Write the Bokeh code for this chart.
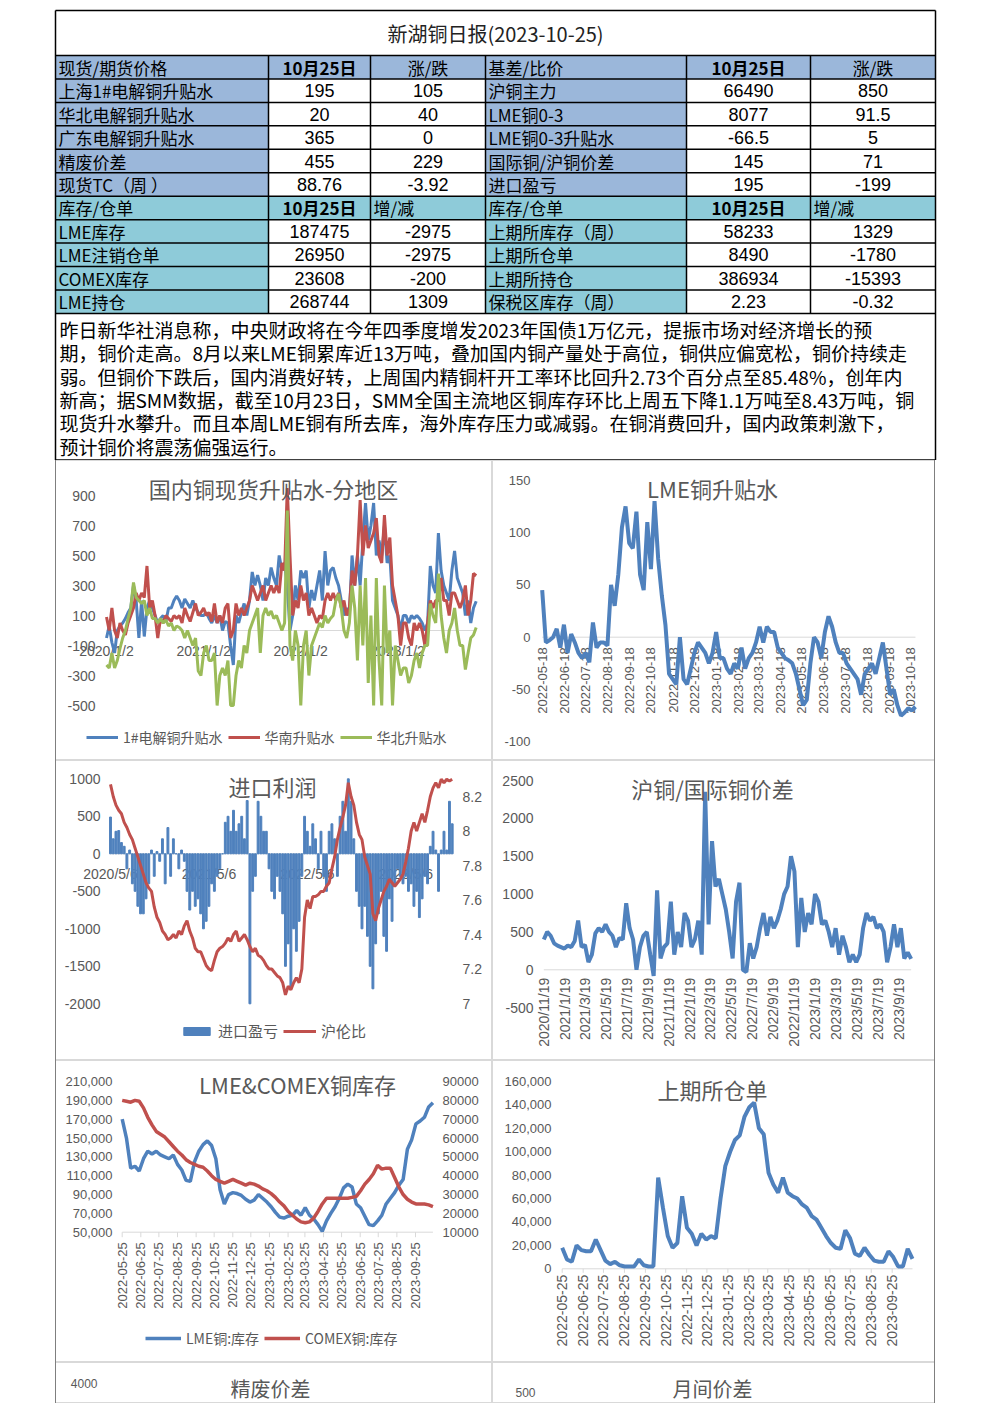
import math
import re
import pandas as pd
from bokeh.plotting import figure
from bokeh.models import Range1d, Legend, LegendItem, Label, Spacer
from bokeh.layouts import column, row
from bokeh.embed import file_html
from bokeh.resources import INLINE
from bokeh.core.properties import value

# ---------------------------------------------------------------- table data
report_title = "新湖铜日报(2023-10-25)"
price_labels = ["现货/期货价格", "上海1#电解铜升贴水", "华北电解铜升贴水", "广东电解铜升贴水", "精废价差", "现货TC（周 ）"]
price_today = ["10月25日", "195", "20", "365", "455", "88.76"]
price_chg = ["涨/跌", "105", "40", "0", "229", "-3.92"]
basis_labels = ["基差/比价", "沪铜主力", "LME铜0-3", "LME铜0-3升贴水", "国际铜/沪铜价差", "进口盈亏"]
basis_today = ["10月25日", "66490", "8077", "-66.5", "145", "195"]
basis_chg = ["涨/跌", "850", "91.5", "5", "71", "-199"]
stock_labels = ["库存/仓单", "LME库存", "LME注销仓单", "COMEX库存", "LME持仓"]
stock_today = ["10月25日", "187475", "26950", "23608", "268744"]
stock_chg = ["增/减", "-2975", "-2975", "-200", "1309"]
shfe_labels = ["库存/仓单", "上期所库存（周）", "上期所仓单", "上期所持仓", "保税区库存（周）"]
shfe_today = ["10月25日", "58233", "8490", "386934", "2.23"]
shfe_chg = ["增/减", "1329", "-1780", "-15393", "-0.32"]
news_lines = [
    "昨日新华社消息称，中央财政将在今年四季度增发2023年国债1万亿元，提振市场对经济增长的预",
    "期，铜价走高。8月以来LME铜累库近13万吨，叠加国内铜产量处于高位，铜供应偏宽松，铜价持续走",
    "弱。但铜价下跌后，国内消费好转，上周国内精铜杆开工率环比回升2.73个百分点至85.48%，创年内",
    "新高；据SMM数据，截至10月23日，SMM全国主流地区铜库存环比上周五下降1.1万吨至8.43万吨，铜",
    "现货升水攀升。而且本周LME铜有所去库，海外库存压力或减弱。在铜消费回升，国内政策刺激下，",
    "预计铜价将震荡偏强运行。",
]

# ---------------------------------------------------------------- chart 1: 国内铜现货升贴水-分地区
c1_title = "国内铜现货升贴水-分地区"
c1_names = ["1#电解铜升贴水", "华南升贴水", "华北升贴水"]
c1_xlabels = ["2020/1/2", "2021/1/2", "2022/1/2", "2023/1/2"]
c1_yticks = [-500, -300, -100, 100, 300, 500, 700, 900]
c1_sh = [-50, 30, -80, -150, 0, 30, 50, 80, 120, 150, 300, 200, -50, 200, -40, 150, 200, 150,
         100, 50, 80, 100, 60, 150, 150, 200, 230, 200, 150, 210, 180, 150, 200, 150, 120, 100,
         100, 120, 80, 50, 100, 50, 100, 0, 60, 50, -100, -230, 100, 50, 120, 180, 100, 200,
         390, 300, 370, 300, 200, 350, 300, 420, 350, 300, 500, 400, 450, 300, 0, 100, 300, 200,
         400, 350, 400, 150, 270, 200, 300, 400, 200, 530, 300, 400, 420, 350, 300, 200, 100, 150,
         100, 500, 300, 500, 300, 600, 850, 600, 700, 850, 500, 600, 500, 700, 450, 500, 200, 150,
         100, 0, 100, 100, 50, 100, 80, 100, 80, 50, 0, 50, 430, 300, 250, 650, 400, 300,
         250, 200, 400, 530, 350, 300, 250, 100, 200, 50, 150, 195]
c1_south = [90, 0, 150, 0, -50, 50, 0, -30, 50, 100, 150, 250, 200, 250, 220, 430, 150, 200,
            100, -50, 80, 50, 100, 80, 60, 100, 80, 100, 50, 150, 100, 60, 120, 180, 100, 120,
            150, 100, 120, 60, 180, 50, 100, 50, 150, 180, -50, 0, 180, 100, 150, 100, 150, 200,
            300, 250, 200, 250, 300, 200, 250, 300, 250, 300, 250, 450, 400, 950, 500, 100, 200, 150,
            300, 200, 250, 100, 150, 100, 50, 100, 80, 200, 250, 200, 250, 200, 250, 150, 200, 100,
            150, 400, 300, 500, 870, 500, 700, 550, 600, 650, 750, 500, 450, 770, 500, 620, 300, 200,
            100, -100, 50, 50, -50, -100, 50, 0, 50, 0, -100, 50, 200, 150, 200, 200, 350, 200,
            200, 100, 250, 250, 200, 150, 200, 300, 100, 200, 380, 365]
c1_north = [-230, -250, -150, -250, -200, -120, -50, 0, 80, 150, 320, 220, 200, 180, 200, 100, 150, 80,
            80, 50, 80, 50, 70, 30, 50, 0, 30, 20, 0, -50, 0, -50, -100, -50, -270, -300,
            -150, -100, -200, -200, -150, -500, -300, -250, -300, -200, -500, -500, -300, -200, -250, -100, -150, 0,
            50, 100, 150, -150, 100, 150, 100, 130, 80, 100, 50, 0, 50, 800, -100, -200, 0, -100,
            -500, -100, 0, -300, -100, -50, 0, 50, 20, 100, 50, 80, 100, 200, 244, 150, 0, -50,
            50, 300, 150, -200, 300, -100, 350, -350, 100, -500, 350, -200, -500, 300, -150, 0, -500, -100,
            -200, -300, -250, -250, -350, -300, -200, -150, -250, -150, -100, -100, 180, 100, 50, 380, 100, -50,
            -150, 0, 50, 150, 0, -100, -100, -260, -150, -50, -30, 20]

# ---------------------------------------------------------------- chart 2: LME铜升贴水
c2_title = "LME铜升贴水"
c2_xlabels = ["2022-05-18", "2022-06-18", "2022-07-18", "2022-08-18", "2022-09-18", "2022-10-18",
              "2022-11-18", "2022-12-18", "2023-01-18", "2023-02-18", "2023-03-18", "2023-04-18",
              "2023-05-18", "2023-06-18", "2023-07-18", "2023-08-18", "2023-09-18", "2023-10-18"]
c2_yticks = [-100, -50, 0, 50, 100, 150]
c2_lme = [45, -5, -3, 0, 8, -10, 12, -15, 3, -5, -15, -20, -15, -24, 14, -10, -5, -5, -8, 50,
          30, 60, 105, 125, 90, 85, 120, 60, 45, 110, 65, 130, 75, 40, 12, -35, -40, -45, 0, -40,
          -45, -30, -15, -5, -10, -15, -25, -15, 5, -20, -20, -30, -35, -25, -30, -10, -30, -20, -15, -5,
          10, -5, 10, 5, 5, -10, -15, -20, -22, -25, -35, -50, -65, -60, -25, 0, -5, -20, 5, 20,
          10, -5, -15, -15, -25, -30, -35, -40, -55, -35, -30, -25, -35, -20, -5, -30, -55, -50, -65, -75,
          -72, -68, -70, -66.5]

# ---------------------------------------------------------------- chart 3: 进口利润
c3_title = "进口利润"
c3_names = ["进口盈亏", "沪伦比"]
c3_xlabels = ["2020/5/6", "2021/5/6", "2022/5/6", "2023/5/6"]
c3_yticks = [-2000, -1500, -1000, -500, 0, 500, 1000]
c3_rticks = [7, 7.2, 7.4, 7.6, 7.8, 8, 8.2]
c3_profit = [490, 200, 300, 310, 150, 100, -200, 50, -400, -500, -700, -800, -800, -600, -400,
             50, -300, 30, -100, 200, -400, 350, -300, 200, 0, -200, 50, -100, -500, -750,
             -500, -700, -600, -800, -1000, -900, -700, -400, -500, -300, -200, 0, 420, 500, 300,
             580, 300, 400, 500, 200, 710, -2000, -500, -300, 700, 500, 300, 300, -200, -500,
             -600, -300, -500, -800, -1500, -1200, -1800, -1000, -1300, -900, -300, 500, 300, 100, 400,
             200, -200, 300, -300, -500, 300, 400, 200, -300, 500, 700, 300, 1000, 700, 200,
             -500, -700, -1000, -700, -1100, -1500, -1800, -1200, -800, -500, -1100, -1300, -600, -900, -400,
             -200, -300, -400, -300, -500, -400, -700, -500, -850, -600, -300, -400, 100, 300, 50,
             -500, 50, 300, 50, 700, 400]
c3_ratio = [8.27, 8.2, 8.15, 8.12, 8.1, 8.05, 8.02, 7.98, 7.95, 7.9, 7.85, 7.8, 7.75, 7.7, 7.67,
            7.65, 7.56, 7.5, 7.47, 7.42, 7.4, 7.37, 7.38, 7.4, 7.38, 7.42, 7.4, 7.45, 7.48, 7.42,
            7.38, 7.32, 7.3, 7.3, 7.26, 7.22, 7.2, 7.19, 7.25, 7.3, 7.32, 7.33, 7.35, 7.38, 7.36,
            7.4, 7.42, 7.36, 7.38, 7.4, 7.37, 7.33, 7.3, 7.32, 7.28, 7.27, 7.25, 7.22, 7.2, 7.2,
            7.18, 7.16, 7.15, 7.12, 7.05, 7.1, 7.08, 7.12, 7.15, 7.12, 7.2, 7.5, 7.6, 7.55, 7.62,
            7.62, 7.63, 7.65, 7.65, 7.68, 7.7, 7.78, 7.85, 7.95, 8.02, 8.08, 8.15, 8.28, 8.2, 8.15,
            8.05, 7.98, 7.95, 7.85, 7.8, 7.75, 7.52, 7.48, 7.55, 7.6, 7.65, 7.68, 7.72, 7.7, 7.68,
            7.7, 7.72, 7.75, 7.82, 7.9, 8.0, 8.05, 8.0, 8.05, 8.1, 8.05, 8.12, 8.2, 8.25, 8.28,
            8.25, 8.3, 8.28, 8.3, 8.29, 8.3]

# ---------------------------------------------------------------- chart 4: 沪铜/国际铜价差
c4_title = "沪铜/国际铜价差"
c4_xlabels = ["2020/11/19", "2021/1/19", "2021/3/19", "2021/5/19", "2021/7/19", "2021/9/19",
              "2021/11/19", "2022/1/19", "2022/3/19", "2022/5/19", "2022/7/19", "2022/9/19",
              "2022/11/19", "2023/1/19", "2023/3/19", "2023/5/19", "2023/7/19", "2023/9/19"]
c4_yticks = [-500, 0, 500, 1000, 1500, 2000, 2500]
c4_spread = [400, 500, 450, 350, 320, 300, 280, 320, 300, 380, 650, 300, 330, 100, 200,
             480, 550, 500, 600, 500, 450, 300, 420, 400, 880, 550, 400, 0, 300, 450,
             500, 200, -80, 1050, 150, 300, 350, 900, 200, 500, 300, 750, 650, 300, 400,
             650, 200, 2350, 600, 1700, 1100, 1200, 1000, 800, 500, 150, 900, 1150, 0, -30,
             350, 150, 300, 550, 750, 450, 700, 550, 650, 800, 1000, 1100, 1500, 1300, 300,
             950, 500, 750, 600, 1000, 900, 600, 650, 500, 300, 550, 200, 450, 300, 100,
             200, 100, 200, 550, 750, 650, 700, 550, 600, 500, 100, 300, 600, 300, 550,
             150, 230, 145]

# ---------------------------------------------------------------- chart 5: LME&COMEX铜库存
c5_title = "LME&COMEX铜库存"
c5_names = ["LME铜:库存", "COMEX铜:库存"]
month_labels = ["2022-05-25", "2022-06-25", "2022-07-25", "2022-08-25", "2022-09-25", "2022-10-25",
                "2022-11-25", "2022-12-25", "2023-01-25", "2023-02-25", "2023-03-25", "2023-04-25",
                "2023-05-25", "2023-06-25", "2023-07-25", "2023-08-25", "2023-09-25"]
c5_yticks = [50000, 70000, 90000, 110000, 130000, 150000, 170000, 190000, 210000]
c5_rticks = [10000, 20000, 30000, 40000, 50000, 60000, 70000, 80000, 90000]
c5_lme = [170000, 150000, 118000, 120000, 115000, 128000, 136000, 133000, 136000, 132000,
          130000, 128000, 132000, 122000, 116000, 105000, 104000, 125000, 136000, 143000,
          147000, 142000, 128000, 95000, 80000, 90000, 92000, 91000, 89000, 85000,
          82000, 84000, 90000, 86000, 82000, 77000, 71000, 66000, 65000, 67000,
          68000, 73000, 68000, 76000, 68000, 64000, 58000, 51000, 62000, 70000,
          77000, 86000, 97000, 101000, 98000, 80000, 76000, 67000, 58000, 57000,
          62000, 68000, 80000, 86000, 92000, 100000, 106000, 138000, 148000, 165000,
          168000, 172000, 183000, 187475]
c5_comex = [80000, 79500, 79000, 80000, 79500, 76000, 71000, 67000, 63500, 62000,
            60500, 58000, 55500, 53000, 51000, 48500, 47000, 46000, 45000, 44500,
            42500, 40000, 38000, 37000, 36000, 37000, 38000, 37000, 36000, 35000,
            36000, 35500, 34500, 33000, 32000, 30500, 28500, 26000, 24000, 21000,
            19000, 17000, 15500, 15000, 15500, 17500, 21000, 25000, 28000, 28000,
            28000, 28000, 28000, 28000, 28500, 29000, 32000, 35500, 38000, 41000,
            45500, 43500, 44000, 44000, 39000, 34000, 30000, 27500, 26000, 25000,
            25000, 25000, 24500, 23608]

# ---------------------------------------------------------------- chart 6: 上期所仓单
c6_title = "上期所仓单"
c6_yticks = [0, 20000, 40000, 60000, 80000, 100000, 120000, 140000, 160000]
c6_receipts = [18000, 8000, 6000, 20000, 16000, 15000, 15000, 25000, 16000, 7000,
               4000, 6000, 3000, 2000, 2000, 2000, 8000, 3000, 2000, 2000,
               78000, 52000, 28000, 18000, 22000, 62000, 35000, 30000, 20000, 30000,
               25000, 28000, 26000, 60000, 88000, 100000, 110000, 114000, 130000, 138000,
               142000, 120000, 115000, 82000, 72000, 65000, 78000, 65000, 62000, 60000,
               55000, 52000, 45000, 42000, 35000, 28000, 22000, 18000, 17000, 33000,
               26000, 13000, 11000, 18000, 12000, 7000, 6000, 6000, 15000, 10000,
               2000, 2000, 17000, 8490]

# ---------------------------------------------------------------- bottom (cut-off) charts
b1_title = "精废价差"
b1_yticks = [4000]
b2_title = "月间价差"
b2_yticks = [500]

# ================================================================ styling helpers
CJK = "Noto Sans CJK SC"
LAT = "Liberation Sans"
GRAY = "#595959"
BLUE = "#4F81BD"
RED = "#C0504D"
GREEN = "#9BBB59"
AXIS_GRAY = "#D9D9D9"
PANEL_L = {"box-shadow": "inset 1px 0 0 0 #7F7F7F, inset 0 0 0 1px #D9D9D9"}
PANEL_R = {"box-shadow": "inset -1px 0 0 0 #7F7F7F, inset 0 0 0 1px #D9D9D9"}


def ms(s):
    return pd.Timestamp(s).value / 1e6


class Panel:
    """A chart panel whose plot frame fills the whole panel box (page pixels)."""

    def __init__(self, box, x_anchor, x_px, x_scale, y_anchor, y_px, y_scale, style, date=True):
        self.L, self.R, self.T, self.B = box
        self.date = date
        self.xs = x_scale
        if date:
            a = ms(x_anchor)
            day = 86400000.0
            self.x0 = a - (x_px - self.L) / x_scale * day
            self.x1 = a + (self.R - x_px) / x_scale * day
            self.unit = day
        else:
            self.x0 = x_anchor - (x_px - self.L) / x_scale
            self.x1 = x_anchor + (self.R - x_px) / x_scale
            self.unit = 1.0
        self.y0, self.y1 = self.yrange(y_anchor, y_px, y_scale)
        p = figure(width=self.R - self.L, height=self.B - self.T,
                   x_axis_type="datetime" if date else "linear",
                   x_range=Range1d(self.x0, self.x1), y_range=Range1d(self.y0, self.y1),
                   output_backend="svg", toolbar_location=None, min_border=0)
        p.xaxis.visible = False
        p.yaxis.visible = False
        p.grid.visible = False
        p.outline_line_color = None
        p.background_fill_color = None
        p.border_fill_color = None
        p.styles = style
        self.p = p

    def yrange(self, anchor, px, scale):
        return anchor - (self.B - px) / scale, anchor + (px - self.T) / scale

    def x_at(self, px):
        return self.x0 + (px - self.L) / self.xs * self.unit

    def rel(self, px, py):
        return px - self.L, self.B - py

    def title(self, text, px, py, size="22px"):
        x, y = self.rel(px, py)
        self.p.add_layout(Label(x=x, y=y, x_units="screen", y_units="screen", text=text,
                                text_align="center", text_baseline="middle", text_font=CJK,
                                text_font_size=size, text_color=GRAY))

    def ylabels(self, ticks, labels, px, size="13px", align="right", range_name="default"):
        self.p.text(x=[self.x_at(px)] * len(ticks), y=ticks, text=labels,
                    text_font=value(LAT), text_font_size=size, text_color=GRAY,
                    text_align=align, text_baseline="middle", y_range_name=range_name)

    def xlabels(self, labels, y, offset, size="14px", rotated=False):
        self.p.text(x=[ms(l) for l in labels], y=[y] * len(labels), text=labels,
                    angle=math.pi / 2 if rotated else 0.0,
                    text_align="right" if rotated else "center", text_baseline="middle",
                    y_offset=offset, text_font=value(LAT), text_font_size=size, text_color=GRAY)

    def baseline(self, x_first, x_last, y, ticks=None, tick_len=0):
        self.p.segment(x0=[ms(x_first)], x1=[ms(x_last)], y0=[y], y1=[y],
                       line_color=AXIS_GRAY, line_width=1)
        if ticks:
            self.p.ray(x=[ms(t) for t in ticks], y=[y] * len(ticks), length=tick_len,
                       length_units="screen", angle=-math.pi / 2, line_color=AXIS_GRAY, line_width=1)

    def legend(self, items, px, py, glyph_w=32, glyph_h=20, size="14px", spacing=5):
        x, y = self.rel(px, py)
        lg = Legend(items=[LegendItem(label=value(t), renderers=[r]) for t, r in items],
                    location=(x, y), orientation="horizontal", border_line_color=None,
                    background_fill_alpha=0, label_text_font=CJK, label_text_font_size=size,
                    label_text_color=GRAY, glyph_width=glyph_w, glyph_height=glyph_h,
                    label_height=glyph_h, spacing=spacing, padding=0, margin=0, label_standoff=5)
        self.p.add_layout(lg)


def numlabels(ticks, comma=False):
    return [f"{t:,}" if comma else f"{t:g}" for t in ticks]


# ================================================================ table figure
col_x = [55, 268, 370, 485, 686, 810, 935]
row_top = 55
row_h = 23.45
HDR_BLUE = "#9BB7DA"
HDR_CYAN = "#8ECBD9"

table_rows = []
for i in range(len(price_labels)):
    table_rows.append([price_labels[i], price_today[i], price_chg[i],
                       basis_labels[i], basis_today[i], basis_chg[i]])
for i in range(len(stock_labels)):
    table_rows.append([stock_labels[i], stock_today[i], stock_chg[i],
                       shfe_labels[i], shfe_today[i], shfe_chg[i]])
n_rows = len(table_rows)
n_price = len(price_labels)
table_bottom = row_top + n_rows * row_h

pt = figure(width=937, height=460, x_range=Range1d(0, 937), y_range=Range1d(460, 0),
            output_backend="svg", toolbar_location=None, min_border=0)
pt.axis.visible = False
pt.grid.visible = False
pt.outline_line_color = None

fills = {"l": [], "r": [], "t": [], "b": [], "c": []}
for r in range(n_rows):
    top = row_top + r * row_h
    color = HDR_BLUE if r < n_price else HDR_CYAN
    for c in range(6):
        if r in (0, n_price) or c in (0, 3):
            fills["l"].append(col_x[c]); fills["r"].append(col_x[c + 1])
            fills["t"].append(top); fills["b"].append(top + row_h); fills["c"].append(color)
pt.quad(left=fills["l"], right=fills["r"], top=fills["t"], bottom=fills["b"],
        fill_color=fills["c"], line_color=None)

num_re = re.compile(r"^-?[\d.]+$")
groups = {}
for r in range(n_rows):
    yc = row_top + (r + 0.5) * row_h
    for c in range(6):
        t = table_rows[r][c]
        if c in (0, 3) or t == "增/减":
            x, align = col_x[c] + 3, "left"
        else:
            x, align = (col_x[c] + col_x[c + 1]) / 2, "center"
        if num_re.match(t):
            key = (LAT, "18px", align, "normal")
        elif "月" in t and "日" in t:
            key = (CJK, "17px", align, "bold")
        else:
            key = (CJK, "17px", align, "normal")
        groups.setdefault(key, ([], [], []))
        groups[key][0].append(x); groups[key][1].append(yc); groups[key][2].append(t)
for (font, size, align, style), (xs, ys, ts) in groups.items():
    pt.text(x=xs, y=ys, text=ts, text_font=value(font), text_font_size=size,
            text_align=align, text_baseline="middle", text_color="black",
            text_font_style=style)

pt.text(x=[495], y=[33], text=[report_title], text_font=value(CJK), text_font_size="20px",
        text_align="center", text_baseline="middle", text_color="#222222")

pt.text(x=[59] * len(news_lines), y=[329 + 23.3 * k for k in range(len(news_lines))],
        text=news_lines, text_font=value(CJK), text_font_size="19px",
        text_align="left", text_baseline="middle", text_color="black")

hy = [10, 55] + [row_top + k * row_h for k in range(1, n_rows + 1)] + [459.5]
pt.segment(x0=[55] * len(hy), x1=[935] * len(hy), y0=hy, y1=hy, line_color="black", line_width=1.5)
pt.segment(x0=[55, 935], x1=[55, 935], y0=[10, 10], y1=[460, 460], line_color="black", line_width=1.5)
vx = col_x[1:-1]
pt.segment(x0=vx, x1=vx, y0=[row_top] * len(vx), y1=[table_bottom] * len(vx),
           line_color="black", line_width=1.5)

# ================================================================ chart 1
P1 = Panel((55, 492, 460, 760), "2020-01-02", 106, 97 / 365.25, 0, 630, 0.15, PANEL_L)
d1 = pd.date_range("2020-01-02", "2023-10-25", periods=len(c1_sh))
P1.ylabels(c1_yticks, numlabels(c1_yticks), 95, size="14px")
P1.baseline(d1[0], d1[-1], 0)
P1.xlabels(c1_xlabels, 0, 20, size="14px")
r11 = P1.p.line(d1, c1_sh, color=BLUE, line_width=3)
r12 = P1.p.line(d1, c1_south, color=RED, line_width=3)
r13 = P1.p.line(d1, c1_north, color=GREEN, line_width=3)
P1.title(c1_title, 273, 487)
P1.legend(list(zip(c1_names, [r11, r12, r13])), 86, 747)

# ================================================================ chart 2
P2 = Panel((492, 935, 460, 760), "2022-05-18", 541.7, 368.3 / 518, 0, 636.7, 1.046, PANEL_R)
d2 = pd.date_range("2022-05-18", "2023-10-25", periods=len(c2_lme))
P2.ylabels(c2_yticks, numlabels(c2_yticks), 530, size="13px")
P2.baseline(d2[0], d2[-1], 0)
P2.xlabels(c2_xlabels, 0, 10, size="13px", rotated=True)
P2.p.line(d2, c2_lme, color=BLUE, line_width=4)
P2.title(c2_title, 712, 487)

# ================================================================ chart 3
P3 = Panel((55, 492, 760, 1060), "2020-05-06", 110, 98.5 / 365.25, 0, 853.3, 0.075, PANEL_L)
r_lo, r_hi = P3.yrange(7, 1003, 172.5)
P3.p.extra_y_ranges = {"r": Range1d(r_lo, r_hi)}
d3 = pd.date_range("2020-05-06", "2023-10-25", periods=len(c3_profit))
P3.ylabels(c3_yticks, numlabels(c3_yticks), 100, size="14px")
P3.ylabels(c3_rticks, numlabels(c3_rticks), 462, size="14px", align="left", range_name="r")
P3.baseline(d3[0], d3[-1], 0)
P3.xlabels(c3_xlabels, 0, 20, size="14px")
r31 = P3.p.vbar(x=d3, top=c3_profit, bottom=0, width=7 * 86400000, color=BLUE)
r32 = P3.p.line(d3, c3_ratio, y_range_name="r", color=RED, line_width=3)
P3.title(c3_title, 272, 785)
P3.legend(list(zip(c3_names, [r31, r32])), 180, 1041, glyph_w=33, glyph_h=10, size="15px")

# ================================================================ chart 4
P4 = Panel((492, 935, 760, 1060), "2020-11-19", 543.3, 355 / 1034, 0, 969.3, 189.3 / 2500, PANEL_R)
d4 = pd.date_range("2020-11-19", "2023-10-25", periods=len(c4_spread))
P4.ylabels(c4_yticks, numlabels(c4_yticks), 533, size="14px")
P4.baseline(d4[0], d4[-1], 0)
P4.xlabels(c4_xlabels, 0, 8, size="14px", rotated=True)
P4.p.line(d4, c4_spread, color=BLUE, line_width=4)
P4.title(c4_title, 712, 787)

# ================================================================ chart 5
P5 = Panel((55, 492, 1060, 1362), "2022-05-25", 121.7, 293.3 / 488, 50000, 1231.7,
           150.7 / 160000, PANEL_L)
r_lo, r_hi = P5.yrange(10000, 1231.7, 150.7 / 80000)
P5.p.extra_y_ranges = {"r": Range1d(r_lo, r_hi)}
d5 = pd.date_range("2022-05-25", "2023-10-24", periods=len(c5_lme))
P5.ylabels(c5_yticks, numlabels(c5_yticks, comma=True), 112, size="13px")
P5.ylabels(c5_rticks, numlabels(c5_rticks), 442, size="13px", align="left", range_name="r")
P5.baseline(d5[0], d5[-1], 50000, ticks=month_labels, tick_len=5)
P5.xlabels(month_labels, 50000, 10, size="13px", rotated=True)
r51 = P5.p.line(d5, c5_lme, color=BLUE, line_width=3.5)
r52 = P5.p.line(d5, c5_comex, y_range_name="r", color=RED, line_width=3.5)
P5.title(c5_title, 297, 1083)
P5.legend(list(zip(c5_names, [r51, r52])), 145, 1348, glyph_w=36)

# ================================================================ chart 6
P6 = Panel((492, 935, 1060, 1362), "2022-05-25", 561.7, 330 / 488, 0, 1268.3,
           187.3 / 160000, PANEL_R)
d6 = pd.date_range("2022-05-25", "2023-10-25", periods=len(c6_receipts))
P6.ylabels(c6_yticks, numlabels(c6_yticks, comma=True), 551, size="13px")
P6.baseline(d6[0], d6[-1], 0, ticks=month_labels, tick_len=4)
P6.xlabels(month_labels, 0, 6, size="14px", rotated=True)
P6.p.line(d6, c6_receipts, color=BLUE, line_width=4)
P6.title(c6_title, 712, 1088)

# ================================================================ bottom cut-off charts
B1 = Panel((55, 492, 1362, 1403), 0, 55, 1.0, 4000, 1383, 0.05, PANEL_L, date=False)
B1.ylabels(b1_yticks, numlabels(b1_yticks), 97, size="12px")
B1.title(b1_title, 270, 1388, size="20px")

B2 = Panel((492, 935, 1362, 1403), 0, 492, 1.0, 500, 1392, 0.2, PANEL_R, date=False)
B2.ylabels(b2_yticks, numlabels(b2_yticks), 535, size="12px")
B2.title(b2_title, 712, 1388, size="20px")

# ================================================================ layout
def charts_row(a, b, h):
    return row(Spacer(width=55, height=h), a.p, b.p)


layout = column(pt,
                charts_row(P1, P2, 300),
                charts_row(P3, P4, 300),
                charts_row(P5, P6, 302),
                charts_row(B1, B2, 41))

open("out.html", "w").write(file_html(layout, INLINE))
